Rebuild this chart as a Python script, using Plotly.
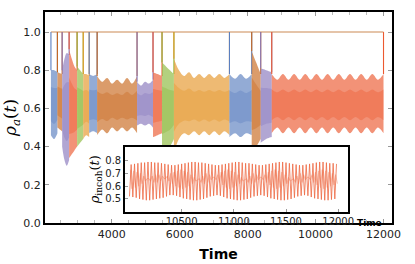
import plotly.graph_objects as go
import numpy as np

# ---------------- data ----------------
blue, brown, purple, red, green, gold = "#5b7fbf", "#c9681f", "#8878bc", "#ec5a30", "#8cb93c", "#e5972a"

seg_bounds = [2210, 2400, 2540, 2745, 2980, 3160, 3335, 3570, 4745, 5215, 5480, 5830,
              7465, 8120, 8385, 8710, 12000]
seg_colors = [blue, brown, purple, red, green, gold, blue, brown, purple, red, green, gold,
              blue, brown, purple, red]
seg_upper = [
    [0.80, 0.80, 0.79],
    [0.79, 0.78],
    [0.80, 0.86, 0.89, 0.88],
    [0.91, 0.86, 0.82, 0.80],
    [0.82, 0.80, 0.78],
    [0.78, 0.78, 0.77],
    [0.78, 0.77, 0.78],
    [0.77, 0.74, 0.76, 0.73, 0.75, 0.73, 0.76, 0.73, 0.77],
    [0.74, 0.72, 0.74, 0.73, 0.75],
    [0.79, 0.78, 0.77],
    [0.84, 0.82, 0.80, 0.78],
    [0.86, 0.80, 0.77, 0.79, 0.76, 0.78, 0.76, 0.78, 0.76, 0.78, 0.76, 0.78],
    [0.78, 0.755, 0.78, 0.755, 0.78],
    [0.90, 0.84, 0.78],
    [0.81, 0.80, 0.79],
    [0.78, 0.75, 0.78, 0.75, 0.78, 0.75, 0.78, 0.75, 0.78, 0.75, 0.78,
     0.75, 0.78, 0.75, 0.78, 0.75, 0.78, 0.75, 0.78, 0.75, 0.78],
]
seg_lower = [
    [0.46, 0.44, 0.47],
    [0.50, 0.48],
    [0.40, 0.33, 0.30, 0.33],
    [0.34, 0.36, 0.38, 0.40],
    [0.40, 0.42, 0.44],
    [0.44, 0.46, 0.45],
    [0.47, 0.48, 0.47],
    [0.46, 0.49, 0.47, 0.50, 0.48, 0.50, 0.48, 0.50, 0.47],
    [0.51, 0.52, 0.51, 0.52, 0.50],
    [0.45, 0.46, 0.47],
    [0.36, 0.38, 0.40, 0.44],
    [0.37, 0.44, 0.47, 0.46, 0.48, 0.46, 0.48, 0.46, 0.48, 0.46, 0.48, 0.46],
    [0.45, 0.47, 0.45, 0.47, 0.46],
    [0.37, 0.40, 0.44],
    [0.42, 0.44, 0.45],
    [0.47, 0.50, 0.47, 0.50, 0.47, 0.50, 0.47, 0.50, 0.47, 0.50, 0.47,
     0.50, 0.47, 0.50, 0.47, 0.50, 0.47, 0.50, 0.47, 0.50, 0.47],
]
full_level = 1.0
time_start, time_end = 2210, 12000

# inset: rho_incoh(t) oscillation (one peak/trough per cycle)
inset_start, inset_end = 10000, 12000
inset_peaks = [0.77, 0.775, 0.78, 0.785, 0.785, 0.79, 0.79, 0.785, 0.785, 0.78, 0.775, 0.77, 0.765, 0.765, 0.77, 0.775,
               0.78, 0.785, 0.79, 0.79, 0.785, 0.785, 0.78, 0.775, 0.77, 0.765, 0.765, 0.77, 0.775, 0.78, 0.785,
               0.79, 0.79, 0.785, 0.78, 0.78, 0.775, 0.77, 0.765, 0.765, 0.77, 0.775, 0.78, 0.785, 0.79, 0.79,
               0.785, 0.78, 0.775, 0.77, 0.765, 0.765, 0.77, 0.775, 0.78, 0.785, 0.79, 0.79, 0.785, 0.78, 0.78, 0.775]
inset_troughs = [0.52, 0.515, 0.51, 0.50, 0.495, 0.49, 0.49, 0.495, 0.50, 0.505, 0.51, 0.52, 0.53, 0.53, 0.525, 0.515,
                 0.505, 0.50, 0.495, 0.49, 0.49, 0.495, 0.50, 0.51, 0.52, 0.525, 0.53, 0.525, 0.515, 0.505, 0.50,
                 0.495, 0.49, 0.49, 0.495, 0.50, 0.51, 0.52, 0.525, 0.53, 0.525, 0.515, 0.505, 0.50, 0.495, 0.49,
                 0.49, 0.495, 0.50, 0.51, 0.52, 0.525, 0.53, 0.525, 0.515, 0.505, 0.50, 0.495, 0.49, 0.49, 0.495, 0.50]
inset_light_hi = [0.73, 0.72, 0.71, 0.70, 0.68, 0.66, 0.64, 0.63, 0.63, 0.64, 0.66, 0.68, 0.70, 0.71, 0.72, 0.73,
                  0.72, 0.71, 0.69, 0.67, 0.65, 0.63, 0.62, 0.63, 0.65, 0.67, 0.69, 0.71, 0.72, 0.73, 0.72,
                  0.71, 0.69, 0.67, 0.65, 0.63, 0.62, 0.63, 0.65, 0.67, 0.69, 0.71, 0.72, 0.73, 0.72, 0.71,
                  0.69, 0.67, 0.65, 0.63, 0.62, 0.63, 0.65, 0.67, 0.69, 0.71, 0.72, 0.73, 0.72, 0.71, 0.70, 0.69]
inset_light_lo = [0.58, 0.59, 0.60, 0.62, 0.64, 0.66, 0.68, 0.69, 0.69, 0.68, 0.66, 0.64, 0.62, 0.60, 0.59, 0.58,
                  0.59, 0.60, 0.62, 0.64, 0.66, 0.68, 0.70, 0.69, 0.67, 0.65, 0.63, 0.61, 0.59, 0.58, 0.59,
                  0.60, 0.62, 0.64, 0.66, 0.68, 0.70, 0.69, 0.67, 0.65, 0.63, 0.61, 0.59, 0.58, 0.59, 0.60,
                  0.62, 0.64, 0.66, 0.68, 0.70, 0.69, 0.67, 0.65, 0.63, 0.61, 0.59, 0.58, 0.59, 0.60, 0.61, 0.62]

main_xticks = [4000, 6000, 8000, 10000, 12000]
main_yticks = [0.0, 0.2, 0.4, 0.6, 0.8, 1.0]
inset_xticks = [10500, 11000, 11500, 12000]
inset_yticks = [0.5, 0.6, 0.7, 0.8]


def rgba(hexc, a):
    h = hexc.lstrip("#")
    return f"rgba({int(h[0:2],16)},{int(h[2:4],16)},{int(h[4:6],16)},{a})"


def band_polygon(tt, up, lo):
    # repeat the corner points so the spline keeps sharp corners at segment ends
    xs = np.concatenate([[tt[0]], tt, [tt[-1], tt[-1]], tt[::-1], [tt[0]]])
    ys = np.concatenate([[up[0]], up, [up[-1], lo[-1]], lo[::-1], [lo[0]]])
    return xs, ys


fig = go.Figure()

# flat line at full level
fig.add_trace(go.Scatter(x=[time_start, time_end], y=[full_level, full_level], mode="lines",
                         line=dict(color="#dcb08c", width=1.6), hoverinfo="skip", showlegend=False))

for i, col in enumerate(seg_colors):
    t0, t1 = seg_bounds[i], seg_bounds[i + 1]
    up = np.array(seg_upper[i])
    lo = np.array(seg_lower[i])
    tt = np.linspace(t0, t1, len(up))
    xs, ys = band_polygon(tt, up, lo)
    fig.add_trace(go.Scatter(x=xs, y=ys, fill="toself", fillcolor=rgba(col, 0.66), mode="lines",
                             line=dict(width=0, color=rgba(col, 0.6), shape="spline", smoothing=1.0),
                             hoverinfo="skip", showlegend=False))
    iu = lo + 0.74 * (up - lo)
    il = lo + 0.22 * (up - lo)
    xs, ys = band_polygon(tt, iu, il)
    fig.add_trace(go.Scatter(x=xs, y=ys, fill="toself", fillcolor=rgba(col, 0.38), mode="lines",
                             line=dict(width=0, color=rgba(col, 0.4), shape="spline", smoothing=1.0),
                             hoverinfo="skip", showlegend=False))
    fig.add_trace(go.Scatter(x=[t0, t0, None, t1, t1], y=[full_level, up[0], None, up[-1], full_level],
                             mode="lines", line=dict(color=col, width=1.1),
                             hoverinfo="skip", showlegend=False))

# ---------------- inset ----------------
n = len(inset_peaks)
period = (inset_end - inset_start) / n
tp = inset_start + period * np.arange(n)
x_dark = np.empty(2 * n)
y_dark = np.empty(2 * n)
x_dark[0::2] = tp
x_dark[1::2] = tp + period / 2
y_dark[0::2] = inset_troughs
y_dark[1::2] = inset_peaks
x_light = np.empty(2 * n)
y_light = np.empty(2 * n)
x_light[0::2] = tp + period * 0.25
x_light[1::2] = tp + period * 0.75
y_light[0::2] = inset_light_hi
y_light[1::2] = inset_light_lo

fig.add_trace(go.Scatter(x=[9940, 12100, 12100, 9940, 9940], y=[0.39, 0.39, 0.92, 0.92, 0.39],
                         fill="toself", fillcolor="white", mode="lines", line=dict(width=0),
                         xaxis="x2", yaxis="y2", hoverinfo="skip", showlegend=False))
fig.add_trace(go.Scatter(x=x_light, y=y_light, mode="lines", line=dict(color="#f8c2b0", width=1),
                         xaxis="x2", yaxis="y2", hoverinfo="skip", showlegend=False))
fig.add_trace(go.Scatter(x=x_dark, y=y_dark, mode="lines", line=dict(color="#ee6a44", width=0.8),
                         xaxis="x2", yaxis="y2", hoverinfo="skip", showlegend=False))

font_main = "DejaVu Sans, sans-serif"
fig.update_layout(
    width=415, height=264,
    margin=dict(l=45, r=23, t=12, b=41),
    paper_bgcolor="white", plot_bgcolor="white",
    font=dict(family=font_main, size=11, color="#222"),
    xaxis=dict(range=[2035, 12250], tickvals=main_xticks, ticktext=[str(v) for v in main_xticks],
               automargin=False,
               showline=True, linecolor="black", linewidth=2, mirror="allticks",
               ticks="inside", ticklen=4, tickcolor="#999", showgrid=False, zeroline=False,
               minor=dict(dtick=500, ticks="inside", ticklen=3, tickcolor="#bbb"),
               title=dict(text="<b>Time</b>", font=dict(size=14, color="black"), standoff=9),
               tickfont=dict(size=11)),
    yaxis=dict(range=[0, 1.105], tickvals=main_yticks, ticktext=[f"{v:.1f}" for v in main_yticks],
               automargin=False,
               showline=True, linecolor="black", linewidth=2, mirror="allticks",
               ticks="inside", ticklen=4, tickcolor="#999", showgrid=False, zeroline=False,
               title=dict(text="<i>ρ</i><sub><i>a</i></sub>(<i>t</i>)",
                          font=dict(family="DejaVu Serif, serif", size=17, color="black"), standoff=6),
               tickfont=dict(size=11)),
    xaxis2=dict(domain=[0.2305, 0.872], anchor="y2", range=[9957, 12090], tickvals=inset_xticks,
                ticktext=[str(v) for v in inset_xticks], automargin=False,
                showline=True, linecolor="black", linewidth=1.5, mirror=True,
                ticks="inside", ticklen=3, tickcolor="#999", showgrid=False, zeroline=False,
                tickfont=dict(size=10)),
    yaxis2=dict(domain=[0.0536, 0.3616], anchor="x2", range=[0.40, 0.91], tickvals=inset_yticks,
                ticktext=[f"{v:.1f}" for v in inset_yticks], automargin=False,
                showline=True, linecolor="black", linewidth=1.5, mirror=True,
                ticks="inside", ticklen=3, tickcolor="#999", showgrid=False, zeroline=False,
                tickfont=dict(size=10),
                title=dict(text="<i>ρ</i><sub>incoh</sub>(<i>t</i>)",
                           font=dict(family="DejaVu Serif, serif", size=13, color="black"), standoff=3)),
    annotations=[dict(text="<b>Time</b>", xref="paper", yref="paper", x=0.935, y=0.0,
                      xanchor="center", yanchor="middle", showarrow=False,
                      font=dict(size=9, color="black"))],
)

fig.write_html("out.html", config={"displayModeBar": False},
               post_script="document.body.style.margin='0';")
